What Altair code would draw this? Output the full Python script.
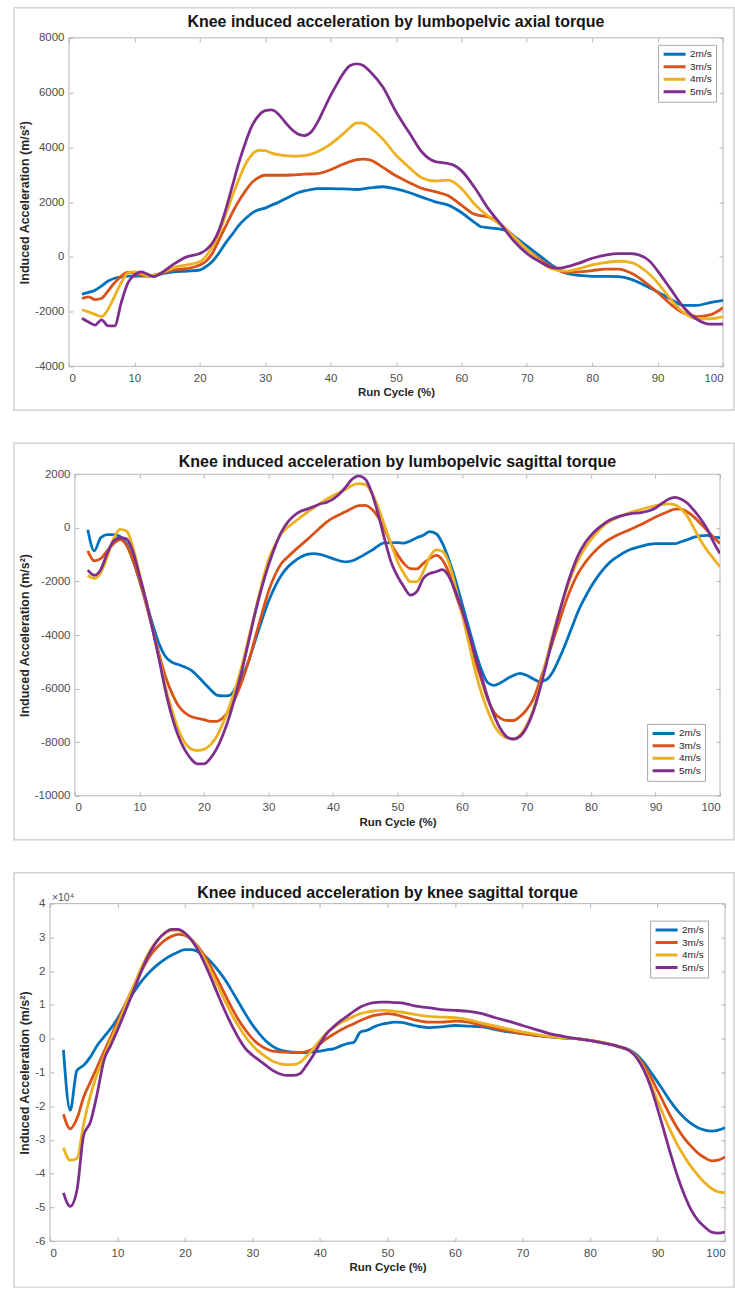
import altair as alt
import pandas as pd

SPEEDS = ["2m/s", "3m/s", "4m/s", "5m/s"]
COLORS = ["#0072BD", "#D95319", "#EDB120", "#7E2F8E"]
X_TICKS = list(range(0, 101, 10))

# ---------------- Panel 1: lumbopelvic axial torque ----------------
p1_x_2 = [2, 3, 4, 5, 6, 7, 8, 9, 10, 12, 14, 16, 18, 20, 21, 22, 23, 24, 25, 26, 27, 28, 29, 30,
          31, 32, 33, 34, 35, 36, 37, 38, 40, 42, 44, 46, 48, 50, 52, 54, 56, 58, 60, 62, 63, 64,
          66, 67, 68, 70, 72, 74, 75, 76, 78, 80, 82, 84, 86, 88, 90, 92, 94, 96, 98, 100]
p1_y_2 = [-1366, -1300, -1220, -1060, -880, -780, -730, -707, -707, -700, -630, -550, -520, -480,
          -350, -150, 160, 520, 830, 1160, 1400, 1600, 1720, 1780, 1890, 1990, 2110, 2230, 2340,
          2410, 2460, 2490, 2490, 2480, 2460, 2520, 2560, 2480, 2350, 2180, 2010, 1890, 1620, 1260,
          1100, 1070, 1010, 950, 770, 400, 40, -330, -480, -600, -680, -710, -710, -720, -820,
          -1040, -1280, -1550, -1770, -1770, -1670, -1590]
p1_x_3 = [2, 3, 4, 5, 6, 7, 8, 9, 10, 11, 12, 14, 16, 18, 20, 21, 22, 23, 24, 25, 26, 27, 28, 29,
          30, 32, 34, 36, 38, 40, 42, 44, 45, 46, 48, 50, 52, 54, 56, 58, 60, 62, 64, 65, 66, 68,
          70, 72, 74, 76, 78, 80, 82, 84, 86, 88, 90, 92, 94, 96, 98, 100]
p1_y_3 = [-1520, -1460, -1560, -1510, -1240, -940, -700, -570, -600, -670, -700, -610, -480, -430,
          -300, -150, 160, 650, 1130, 1620, 2050, 2410, 2720, 2900, 2980, 2980, 2990, 3020, 3040,
          3180, 3390, 3550, 3570, 3540, 3270, 2960, 2720, 2500, 2380, 2230, 1890, 1560, 1460, 1380,
          1200, 740, 280, -90, -390, -570, -550, -500, -450, -450, -600, -910, -1300, -1730, -2060,
          -2180, -2120, -1850]
p1_x_4 = [2, 3, 4, 5, 6, 7, 8, 9, 10, 11, 12, 14, 16, 18, 20, 21, 22, 23, 24, 25, 26, 27, 28, 29,
          30, 31, 32, 34, 36, 38, 40, 42, 43, 44, 45, 46, 48, 50, 52, 54, 56, 58, 60, 62, 64, 66,
          68, 70, 72, 74, 76, 78, 80, 82, 84, 86, 88, 90, 92, 94, 96, 98, 100]
p1_y_4 = [-1930, -2010, -2100, -2180, -1910, -1430, -940, -600, -550, -600, -700, -600, -400, -290,
          -180, 40, 400, 890, 1560, 2230, 2840, 3390, 3740, 3890, 3880, 3790, 3730, 3680, 3700, 3840,
          4120, 4510, 4730, 4890, 4880, 4730, 4300, 3720, 3270, 2880, 2770, 2800, 2500, 1930, 1500,
          1170, 740, 280, -150, -450, -520, -430, -290, -210, -160, -210, -480, -940, -1550, -2040,
          -2260, -2260, -2180]
p1_x_5 = [2, 3, 4, 5, 6, 7, 8, 9, 10, 11, 12, 13, 14, 16, 18, 20, 21, 22, 23, 24, 25, 26, 27, 28,
          29, 30, 31, 32, 33, 34, 35, 36, 37, 38, 39, 40, 41, 42, 43, 44, 45, 46, 48, 50, 52, 54,
          55, 56, 58, 59, 60, 62, 64, 66, 68, 70, 72, 74, 75, 76, 78, 80, 82, 84, 86, 88, 89, 90,
          92, 94, 96, 98, 100]
p1_y_5 = [-2240, -2380, -2490, -2300, -2520, -2520, -1670, -960, -670, -550, -630, -720, -610, -270,
          0, 120, 260, 520, 1010, 1740, 2600, 3450, 4180, 4790, 5160, 5340, 5370, 5220, 4940, 4670,
          4490, 4430, 4550, 4910, 5400, 5890, 6320, 6720, 6990, 7050, 6990, 6780, 6200, 5300, 4550,
          3820, 3600, 3480, 3410, 3330, 3150, 2540, 1800, 1200, 590, 130, -180, -390, -410, -370,
          -230, -50, 60, 120, 120, -20, -210, -510, -1180, -1850, -2280, -2460, -2460]

# ---------------- Panel 2: lumbopelvic sagittal torque ----------------
p2_x_2 = [*range(2, 39), 40, 42, 43, 44, 46, 48, *range(50, 87), 88, 90, 92, 93, 94, 95, 96, 97,
          98, 99, 100]
p2_y_2 = [-70, -860, -370, -250, -250, -320, -590, -1210, -1950,
          -2750, -3560, -4300, -4790, -5010, -5100, -5190, -5310, -5530, -5780,
          -6030, -6240, -6270, -6250, -5960, -5530, -4920, -4170, -3430, -2750,
          -2200, -1770, -1460, -1250, -1090, -990, -960, -990,
          -1150, -1270, -1230, -1120, -840, -560,
          -550, -570, -490, -370, -280, -140, -220, -590, -1210, -1950, -2820,
          -3680, -4540, -5290, -5780, -5880, -5780, -5630, -5510, -5430, -5500,
          -5630, -5740, -5680, -5410, -4920, -4360, -3740, -3120, -2630, -2200,
          -1830, -1520, -1270, -1090, -940, -820,
          -670, -590, -590, -590, -520, -440, -350, -300, -280, -350, -370]
p2_x_3 = [*range(2, 85), 86, 88, 90, 92, 93, 94, 95, 96, 97, 98, 99, 100]
p2_y_3 = [-860, -1230, -1150, -860, -590, -440, -650, -1210, -1950,
          -2820, -3740, -4670, -5530, -6150, -6620, -6890, -7040, -7110, -7160,
          -7220, -7220, -7080, -6770, -6270, -5660, -4920, -4050, -3190, -2380,
          -1770, -1330, -1090, -860, -650, -440, -220, 0, 210, 370,
          490, 610, 730, 830, 840, 700, 400, -40, -590, -1000,
          -1330, -1520, -1530, -1330, -1150, -1030, -1210, -1700, -2450, -3190,
          -4050, -4920, -5660, -6400, -6890, -7110, -7190, -7190, -7040, -6790,
          -6420, -5780, -5040, -4300, -3560, -2820, -2200, -1700, -1330, -1030,
          -780, -570, -410, -280,
          -70, 150, 400, 610, 700, 700, 580, 400, 150, -100, -350, -590]
p2_x_4 = [*range(2, 85), 86, 88, 90, 92, 93, 94, 95, 96, 97, 98, 99, 100]
p2_y_4 = [-1770, -1890, -1680, -1090, -410, -60, -120, -720, -1700,
          -2690, -3740, -4790, -5900, -6770, -7510, -8000, -8250, -8310, -8270,
          -8100, -7780, -7260, -6640, -5900, -5040, -4050, -3060, -2070, -1210,
          -650, -220, 20, 210, 400, 580, 740, 910, 1070, 1200,
          1320, 1440, 1590, 1650, 1610, 1320, 770, 90, -590, -1250,
          -1700, -2010, -2010, -1640, -1090, -820, -880, -1330, -2200, -3190,
          -4240, -5290, -6150, -6830, -7380, -7690, -7850, -7880, -7730, -7380,
          -6830, -6030, -5040, -4050, -3190, -2450, -1770, -1210, -780, -440,
          -160, 90, 250, 370,
          560, 700, 830, 890, 860, 700, 400, -40, -470, -840, -1150, -1460]
p2_x_5 = [*range(2, 85), 86, 88, *range(90, 101)]
p2_y_5 = [-1580, -1770, -1560, -960, -490, -370, -410, -900, -1770,
          -2690, -3740, -4850, -6030, -7010, -7750, -8270, -8620, -8810, -8810,
          -8600, -8230, -7690, -7010, -6150, -5220, -4170, -3120, -2200, -1400,
          -720, -160, 210, 460, 620, 700, 790, 890, 950, 1070,
          1260, 1530, 1820, 1940, 1820, 1320, 520, -410, -1270, -1800,
          -2200, -2510, -2380, -1890, -1700, -1640, -1560, -1830, -2380, -3060,
          -3870, -4730, -5530, -6340, -7010, -7510, -7810, -7880, -7780, -7450,
          -6890, -6090, -5160, -4170, -3250, -2380, -1640, -1030, -590, -280,
          -40, 150, 300, 400,
          520, 580, 740, 910, 1070, 1140, 1070, 910, 640, 330, -40, -530, -960]

# ---------------- Panel 3: knee sagittal torque (values in 10^4 m/s^2) ----------------
p3_x_a = [*range(2, 51), 51, 52, *range(54, 87, 2), *range(87, 101)]
p3_y_2 = [-0.33, -2.12, -0.94, -0.79, -0.54, -0.20, 0.05, 0.30, 0.59,
          0.94, 1.25, 1.55, 1.81, 2.02, 2.20, 2.35, 2.47, 2.57, 2.64,
          2.64, 2.57, 2.44, 2.24, 2.00, 1.73, 1.40, 1.06, 0.72, 0.41,
          0.15, -0.07, -0.23, -0.33, -0.38, -0.40, -0.41, -0.41, -0.39, -0.37,
          -0.33, -0.30, -0.22, -0.15, -0.11, 0.20, 0.25, 0.35, 0.42, 0.46,
          0.49, 0.48, 0.39, 0.33, 0.35, 0.39, 0.37, 0.35, 0.27, 0.20, 0.15, 0.10,
          0.05, 0.02, 0.0, -0.05, -0.13, -0.22, -0.35,
          -0.49, -0.71, -0.99, -1.28, -1.58, -1.88, -2.14, -2.35, -2.52, -2.64,
          -2.71, -2.74, -2.71, -2.64]
p3_y_3 = [-2.24, -2.67, -2.37, -1.73, -1.28, -0.84, -0.39, 0.05, 0.49,
          0.94, 1.38, 1.78, 2.17, 2.50, 2.73, 2.91, 3.03, 3.09, 3.06,
          2.93, 2.71, 2.42, 2.07, 1.68, 1.28, 0.89, 0.54, 0.25, 0.0,
          -0.18, -0.30, -0.37, -0.39, -0.40, -0.41, -0.41, -0.38, -0.30, -0.15,
          0.0, 0.13, 0.25, 0.35, 0.44, 0.54, 0.62, 0.69, 0.72, 0.74,
          0.72, 0.67, 0.56, 0.49, 0.49, 0.52, 0.49, 0.39, 0.30, 0.22, 0.15, 0.10,
          0.06, 0.03, 0.0, -0.05, -0.12, -0.22, -0.37,
          -0.54, -0.79, -1.14, -1.53, -1.93, -2.32, -2.67, -2.96, -3.19, -3.39,
          -3.53, -3.62, -3.60, -3.50]
p3_y_4 = [-3.23, -3.60, -3.55, -2.52, -1.68, -1.04, -0.54, -0.05, 0.39,
          0.89, 1.38, 1.85, 2.30, 2.67, 2.93, 3.11, 3.21, 3.21, 3.11,
          2.93, 2.67, 2.32, 1.92, 1.51, 1.09, 0.69, 0.35, 0.05, -0.20,
          -0.39, -0.54, -0.67, -0.74, -0.77, -0.77, -0.71, -0.52, -0.30, -0.05,
          0.17, 0.33, 0.46, 0.56, 0.66, 0.74, 0.79, 0.82, 0.84, 0.84,
          0.81, 0.79, 0.72, 0.66, 0.64, 0.62, 0.56, 0.46, 0.37, 0.28, 0.20, 0.13,
          0.07, 0.03, 0.0, -0.05, -0.12, -0.22, -0.37,
          -0.56, -0.89, -1.33, -1.83, -2.32, -2.76, -3.16, -3.50, -3.80, -4.05,
          -4.27, -4.44, -4.54, -4.56]
p3_x_5 = [*range(2, 51), 51, 52, 53, *range(54, 87, 2), *range(87, 101)]
p3_y_5 = [-4.57, -4.97, -4.49, -2.86, -2.47, -1.63, -0.64, -0.20, 0.25,
          0.74, 1.23, 1.73, 2.22, 2.62, 2.93, 3.13, 3.24, 3.24, 3.13,
          2.91, 2.60, 2.19, 1.73, 1.25, 0.79, 0.37, 0.0, -0.30, -0.49,
          -0.64, -0.79, -0.94, -1.04, -1.09, -1.09, -1.04, -0.79, -0.49, -0.15,
          0.15, 0.35, 0.52, 0.66, 0.81, 0.94, 1.02, 1.07, 1.08, 1.08,
          1.07, 1.06, 1.02, 0.97, 0.92, 0.86, 0.84, 0.81, 0.74, 0.62, 0.51, 0.39,
          0.27, 0.15, 0.07, 0.0, -0.06, -0.13, -0.22, -0.38,
          -0.59, -0.94, -1.43, -2.07, -2.76, -3.46, -4.10, -4.64, -5.08, -5.38,
          -5.58, -5.73, -5.76, -5.73]

P1_Y_TICKS = [-4000, -2000, 0, 2000, 4000, 6000, 8000]
P2_Y_TICKS = [-10000, -8000, -6000, -4000, -2000, 0, 2000]
P3_Y_TICKS = [-6, -5, -4, -3, -2, -1, 0, 1, 2, 3, 4]

FONT = "Liberation Sans"
LABEL_COLOR = "#4d4d4d"
BOX = "#b5b5b5"
TICK = 4
ORIGIN = 49          # absolute x of the shared group origin
FRAME_LEFT = 13      # absolute x of the outer panel frames
FRAME_RIGHT = 734


def make_df(xs_list, ys_list):
    rows = []
    for speed, xs, ys in zip(SPEEDS, xs_list, ys_list):
        assert len(xs) == len(ys), (speed, len(xs), len(ys))
        for x, y in zip(xs, ys):
            rows.append({"speed": speed, "x": x, "y": y})
    return pd.DataFrame(rows)


def panel(df, title, title_gap, ydom, yticks, dx, w, h, frame_tb, legend_orient,
          legend_offset, exponent=False):
    W = dx + w
    xs = alt.Scale(domain=[0, 100], nice=False, zero=False, range=[dx, W])
    ys = alt.Scale(domain=ydom, nice=False, zero=False)
    color = alt.Color(
        "speed:N",
        scale=alt.Scale(domain=SPEEDS, range=COLORS),
        legend=alt.Legend(title=None, orient=legend_orient, offset=legend_offset),
    )
    lines = alt.Chart(df).mark_line(strokeWidth=2.8, interpolate="monotone", clip=True).encode(
        x=alt.X("x:Q", scale=xs,
                axis=alt.Axis(values=X_TICKS, ticks=False, domain=False, grid=False,
                              title="Run Cycle (%)", labelPadding=6, titlePadding=3,
                              titleFontSize=11.5, labelExpr="'' + datum.value")),
        y=alt.Y("y:Q", scale=ys,
                axis=alt.Axis(values=yticks, ticks=False, domain=False, grid=False,
                              title="Induced Acceleration (m/s²)", labelPadding=5,
                              titlePadding=3, titleFontSize=12.5, offset=-dx,
                              labelExpr="'' + datum.value")),
        color=color,
    )

    def tick_axis(orient, vals, off):
        return alt.Axis(orient=orient, values=vals, labels=False, domain=False, grid=False,
                        ticks=True, tickSize=TICK, tickColor=BOX, offset=off, title=None)

    ticks_a = alt.Chart(df).mark_point(opacity=0).encode(
        x=alt.X("x:Q", scale=xs, axis=tick_axis("bottom", X_TICKS, -TICK)),
        y=alt.Y("y:Q", scale=ys, axis=tick_axis("left", yticks, -(dx + TICK))),
    )
    ticks_b = alt.Chart(df).mark_point(opacity=0).encode(
        x=alt.X("x:Q", scale=xs, axis=tick_axis("top", X_TICKS, -TICK)),
        y=alt.Y("y:Q", scale=ys, axis=tick_axis("right", yticks, -TICK)),
    )
    one = pd.DataFrame({"k": [0]})
    ft, fb = frame_tb
    frame = alt.Chart(one).mark_rect(
        fillOpacity=0, stroke="#d2d2d2", strokeWidth=1.5
    ).encode(x=alt.value(FRAME_LEFT - ORIGIN), x2=alt.value(FRAME_RIGHT - ORIGIN),
             y=alt.value(-ft), y2=alt.value(h + fb))
    plot_box = alt.Chart(one).mark_rect(
        fillOpacity=0, stroke=BOX, strokeWidth=1
    ).encode(x=alt.value(dx), x2=alt.value(W), y=alt.value(0), y2=alt.value(h))
    title_txt = alt.Chart(pd.DataFrame({"t": [title]})).mark_text(
        align="center", baseline="middle", fontSize=16, font=FONT, fontWeight="bold",
        color="#151515"
    ).encode(text="t:N", x=alt.value(dx + w / 2), y=alt.value(-title_gap))
    layers = [frame, plot_box, lines, ticks_a, ticks_b, title_txt]
    if exponent:
        exp_txt = alt.Chart(pd.DataFrame({"t": ["×10⁴"]})).mark_text(
            align="left", baseline="bottom", fontSize=10.5, font=FONT, color=LABEL_COLOR
        ).encode(text="t:N", x=alt.value(dx + 2), y=alt.value(-1))
        layers.append(exp_txt)
    return alt.layer(*layers).resolve_axis(x="independent", y="independent").properties(
        width=W, height=h,
    )


df1 = make_df([p1_x_2, p1_x_3, p1_x_4, p1_x_5], [p1_y_2, p1_y_3, p1_y_4, p1_y_5])
df2 = make_df([p2_x_2, p2_x_3, p2_x_4, p2_x_5], [p2_y_2, p2_y_3, p2_y_4, p2_y_5])
df3 = make_df([p3_x_a, p3_x_a, p3_x_a, p3_x_5], [p3_y_2, p3_y_3, p3_y_4, p3_y_5])

c1 = panel(df1, "Knee induced acceleration by lumbopelvic axial torque", 16, [-4000, 8000],
           P1_Y_TICKS, 68 - ORIGIN, 655, 329, (30, 44), "top-right", 7)
c2 = panel(df2, "Knee induced acceleration by lumbopelvic sagittal torque", 12, [-10000, 2000],
           P2_Y_TICKS, 74 - ORIGIN, 646, 322, (31, 44), "bottom-right", 15)
c3 = panel(df3, "Knee induced acceleration by knee sagittal torque", 11, [-6, 4],
           P3_Y_TICKS, 49 - ORIGIN, 676, 338, (31, 46), "top-right", 17, exponent=True)

chart = alt.vconcat(c1, c2, c3, spacing=31).properties(
    padding={"left": FRAME_LEFT, "top": 6, "right": 0, "bottom": 0},
    background="white",
).configure_view(stroke="transparent", strokeWidth=0).configure_axis(
    labelFont=FONT, labelFontSize=11.5, labelColor=LABEL_COLOR,
    titleFont=FONT, titleFontWeight="bold", titleColor="#262626",
).configure_legend(
    labelFont=FONT, labelFontSize=10, labelColor="#262626", symbolType="stroke",
    symbolStrokeWidth=3, symbolSize=484, clipHeight=11, strokeColor="#a8a8a8",
    fillColor="white", padding=4, rowPadding=1.5, labelOffset=3, cornerRadius=0,
)

chart.save("out.html", embed_options={"renderer": "svg", "actions": False})
